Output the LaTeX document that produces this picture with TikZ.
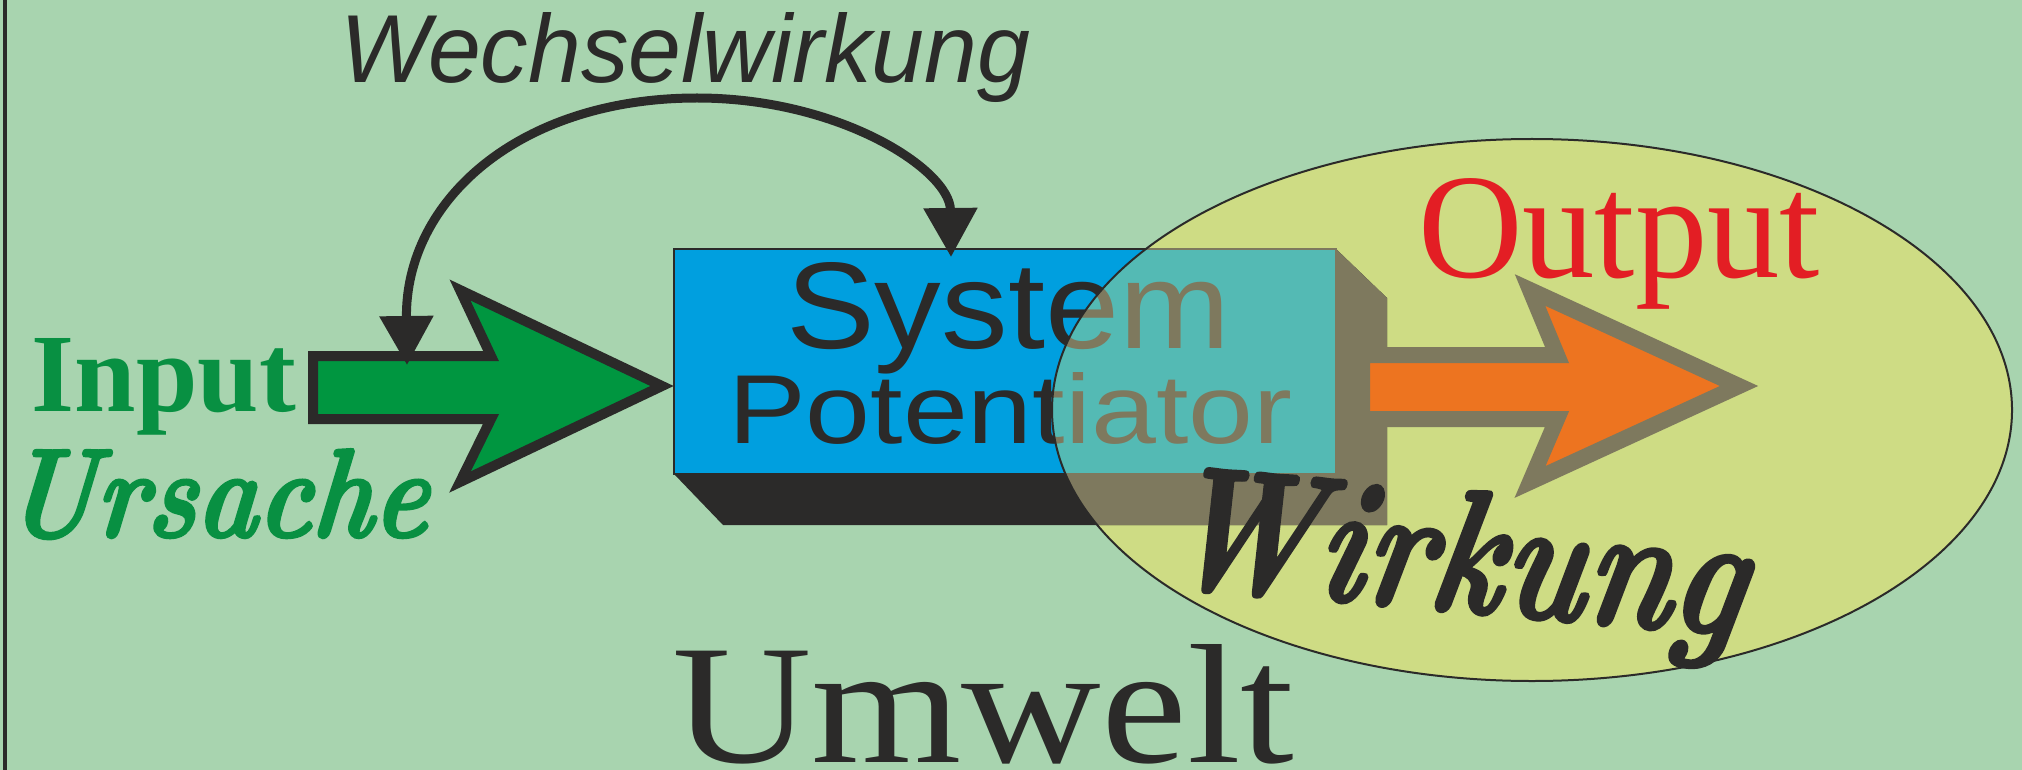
\documentclass[tikz,border=0pt]{standalone}
\usepackage{fontspec}
\usetikzlibrary{arrows.meta}
\newfontfamily\helv{Liberation Sans}
\newfontfamily\tms{Liberation Serif}
\newfontfamily\brush{lmroman10-bolditalic.otf}[FakeBold=2,FakeSlant=0.12]

\definecolor{bggreen}{RGB}{168,212,175}
\definecolor{zonefill}{RGB}{206,220,132}
\definecolor{sysblue}{RGB}{0,159,223}
\definecolor{systeal}{RGB}{84,186,180}
\definecolor{olive}{RGB}{126,121,94}
\definecolor{ink}{RGB}{43,42,41}
\definecolor{ingreen}{RGB}{0,150,64}
\definecolor{txtgreen}{RGB}{8,144,66}
\definecolor{outorange}{RGB}{237,116,32}
\definecolor{outred}{RGB}{227,30,36}

% shadow, box and the two lines of its label, in the given colours
\newcommand\drawsystem[4]{%
  \fill[#2] (674,474) -- (723,525) -- (1387,525) -- (1387,298) -- (1336,249) -- (1336,474) -- cycle;
  \node[sysbox, fill=#3, draw=#2] (system#1) at (1005,361.5) {};
  \node[txt, text=#4] (systemA#1) at (786,348) {\resizebox{222pt}{43pt}{\helv System}};
  \node[txt, text=#4] (systemB#1) at (728,443) {\resizebox{282pt}{35.5pt}{\helv Potentiator}};
}

\begin{document}
\begin{tikzpicture}[x=0.5pt,y=-0.5pt,
  txt/.style={inner sep=0pt, outer sep=0pt, anchor=base west},
  sysbox/.style={rectangle, inner sep=0pt, minimum width=331pt, minimum height=112.5pt, line width=0.75pt},
  wwline/.style={draw=ink, line width=4.5pt},
  inarrow/.style={fill=ingreen, draw=ink, line width=5pt, miter limit=10},
  outarrow/.style={fill=outorange, draw=olive, line width=8pt, miter limit=10}]

% canvas and left rule
\fill[bggreen] (0,0) rectangle (2022,770);
\useasboundingbox (0,0) rectangle (2022,770);
\draw[ink, line width=2pt] (5,0) -- (5,770);

% zone of the effect
\fill[zonefill] (1532,410) ellipse [x radius=480, y radius=271];

% the system block, plain and as seen through the zone
\drawsystem{}{ink}{sysblue}{ink}
\begin{scope}
  \clip (1532,410) ellipse [x radius=480, y radius=271];
  \drawsystem{z}{olive}{systeal}{olive}
\end{scope}
\draw[ink, line width=1pt] (1532,410) ellipse [x radius=480, y radius=271];

% input arrow
\draw[inarrow] (313,356) -- (491,356) -- (460,290) -- (662,386) -- (460,482) -- (491,419) -- (313,419) -- cycle;

% output arrow
\draw[outarrow] (1362,355) -- (1557,355) -- (1530,290) -- (1739,386) -- (1530,482) -- (1557,419) -- (1362,419) -- cycle;

% interaction loop
\coordinate (wwL) at (407,365);
\coordinate (wwR) at (951,257);
\draw[wwline, {Triangle[length=24.5pt,width=26pt]}-{Triangle[length=24.5pt,width=26pt]}]
  (wwL) .. controls (405,200) and (520,98) .. (697,98)
        .. controls (840,98) and (950,170) .. (wwR);

% labels
\node[txt, text=ink] (wechsel) at (340,83) {\resizebox{345pt}{35pt}{\helv\itshape Wechselwirkung}};
\node[txt, text=txtgreen] (input) at (32,411) {\resizebox{132pt}{36.5pt}{\tms\bfseries Input}};
\node[txt, text=txtgreen] (ursache) at (2,537) {\resizebox{212pt}{44pt}{\brush Ursache}};
\node[txt, text=ink, rotate=-5] (wirkung) at (1155,585) {\resizebox{292pt}{61pt}{\brush Wirkung}};
\node[txt, text=outred] (output) at (1418,278) {\resizebox{201pt}{49.5pt}{\tms Output}};
\node[txt, text=ink] (umwelt) at (672,762) {\resizebox{311pt}{59pt}{\tms Umwelt}};
\end{tikzpicture}
\end{document}
